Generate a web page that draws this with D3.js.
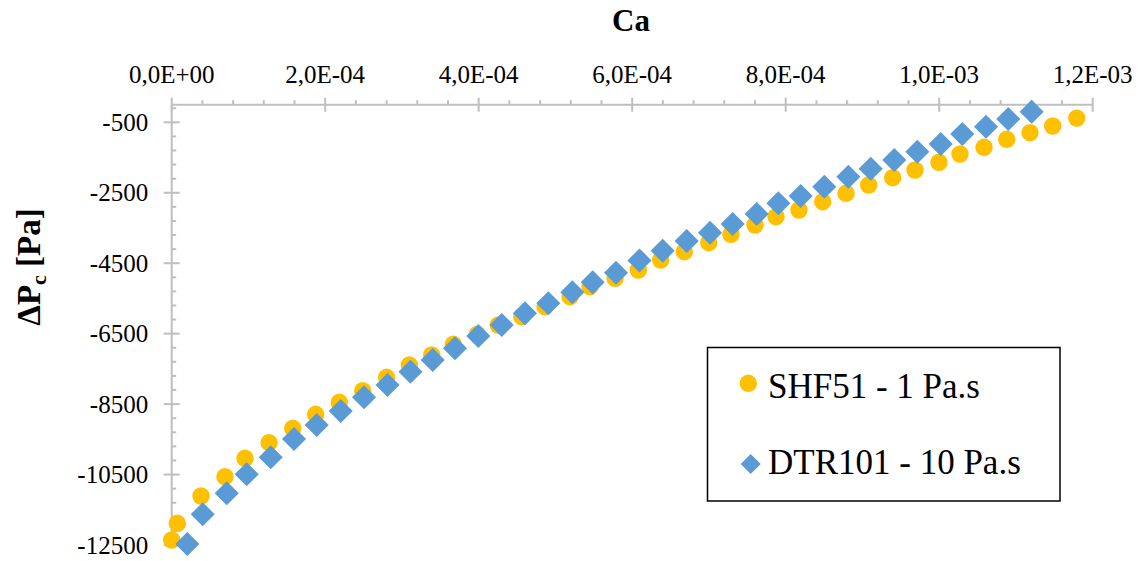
<!DOCTYPE html>
<html>
<head>
<meta charset="utf-8">
<script src="https://cdn.jsdelivr.net/npm/d3@7"></script>
<style>
  svg text, svg tspan { font-family: "Liberation Serif", "Times New Roman", serif !important; }
</style>
</head>
<body style="margin:0;background:#fff">
<svg id="chart" width="1142" height="561" font-family="Liberation Serif"></svg>
<script>
// ---- data ----
const seriesNames = ["SHF51 - 1 Pa.s", "DTR101 - 10 Pa.s"];

const shfCa = [0, 7.3e-6, 3.82e-5, 6.94e-5, 9.55e-5, 1.268e-4, 1.577e-4, 1.876e-4, 2.184e-4, 2.489e-4,
  2.80e-4, 3.096e-4, 3.388e-4, 3.669e-4, 3.982e-4, 4.255e-4, 4.560e-4, 4.864e-4, 5.190e-4, 5.450e-4,
  5.776e-4, 6.080e-4, 6.371e-4, 6.679e-4, 6.997e-4, 7.287e-4, 7.600e-4, 7.874e-4, 8.173e-4, 8.482e-4,
  8.786e-4, 9.081e-4, 9.394e-4, 9.685e-4, 9.997e-4, 1.0271e-3, 1.0584e-3, 1.0880e-3, 1.1183e-3, 1.1479e-3, 1.1792e-3];
const shfDP = [-12358, -11884, -11109, -10561, -10039, -9596, -9187, -8790, -8449, -8120,
  -7739, -7390, -7106, -6802, -6518, -6254, -6019, -5735, -5451, -5167,
  -4929, -4693, -4409, -4173, -3918, -3679, -3415, -3180, -2989, -2754,
  -2515, -2280, -2072, -1854, -1635, -1400, -1209, -982, -795, -605, -380];

const dtrCa = [2.03e-5, 4.04e-5, 7.17e-5, 9.77e-5, 1.290e-4, 1.594e-4, 1.889e-4, 2.202e-4, 2.506e-4, 2.812e-4,
  3.111e-4, 3.401e-4, 3.691e-4, 3.995e-4, 4.300e-4, 4.603e-4, 4.907e-4, 5.220e-4, 5.485e-4, 5.789e-4,
  6.095e-4, 6.397e-4, 6.710e-4, 7.014e-4, 7.309e-4, 7.622e-4, 7.904e-4, 8.195e-4, 8.503e-4, 8.816e-4,
  9.108e-4, 9.415e-4, 9.715e-4, 1.0020e-3, 1.0301e-3, 1.0610e-3, 1.0900e-3, 1.1205e-3];
const dtrDP = [-12472, -11629, -11032, -10493, -10010, -9491, -9093, -8696, -8307, -7958,
  -7580, -7248, -6916, -6567, -6254, -5922, -5638, -5326, -5042, -4770,
  -4423, -4145, -3870, -3634, -3387, -3103, -2799, -2592, -2328, -2044,
  -1820, -1570, -1334, -1116, -832, -625, -406, -199];

const xTicks = [0, 2e-4, 4e-4, 6e-4, 8e-4, 1e-3, 1.2e-3];
const xTickLabels = ["0,0E+00", "2,0E-04", "4,0E-04", "6,0E-04", "8,0E-04", "1,0E-03", "1,2E-03"];
const yTicks = [-12500, -10500, -8500, -6500, -4500, -2500, -500];
const yTickLabels = ["-12500", "-10500", "-8500", "-6500", "-4500", "-2500", "-500"];

const xTitle = "Ca";

// ---- layout ----
const svg = d3.select("#chart");
const x = d3.scaleLinear().domain([0, 1.2e-3]).range([171.7, 1092.7]);
const y = d3.scaleLinear().domain([-12500, 0]).range([545, 104.7]);
const axisColor = "#BFBFBF";

function serif(sel) {
  return sel.attr("font-family", "Liberation Serif").style("font-family", '"Liberation Serif"');
}

// minor ticks
const xMinor = d3.range(0, 30).map(i => i * 4e-5).filter(v => xTicks.every(t => Math.abs(t - v) > 1e-9));
const yMinor = d3.range(0, 32).map(i => -12500 + i * 400).filter(v => v <= 0 && !yTicks.includes(v));

const g = svg.append("g");

// x axis (top, at y = 0)
const xAxisG = g.append("g").attr("transform", `translate(0,${y(0)})`);
xAxisG.append("line").attr("x1", x(0)).attr("x2", x(1.2e-3)).attr("y1", 0).attr("y2", 0)
  .attr("stroke", axisColor).attr("stroke-width", 2);
xAxisG.selectAll("line.major").data(xTicks).join("line").attr("class", "major")
  .attr("x1", d => x(d)).attr("x2", d => x(d)).attr("y1", -7).attr("y2", 7)
  .attr("stroke", axisColor).attr("stroke-width", 2);
xAxisG.selectAll("line.minor").data(xMinor).join("line").attr("class", "minor")
  .attr("x1", d => x(d)).attr("x2", d => x(d)).attr("y1", -4.5).attr("y2", 0)
  .attr("stroke", axisColor).attr("stroke-width", 2);
serif(xAxisG.selectAll("text").data(xTicks).join("text"))
  .attr("x", d => x(d)).attr("y", -21.5).attr("text-anchor", "middle")
  .attr("font-size", 25).attr("fill", "#000")
  .text((d, i) => xTickLabels[i]);

// y axis (at x = 0)
const yAxisG = g.append("g").attr("transform", `translate(${x(0)},0)`);
yAxisG.append("line").attr("x1", 0).attr("x2", 0).attr("y1", y(-12500)).attr("y2", y(0))
  .attr("stroke", axisColor).attr("stroke-width", 2);
yAxisG.selectAll("line.major").data(yTicks).join("line").attr("class", "major")
  .attr("x1", -8).attr("x2", 8).attr("y1", d => y(d)).attr("y2", d => y(d))
  .attr("stroke", axisColor).attr("stroke-width", 2);
yAxisG.selectAll("line.minor").data(yMinor).join("line").attr("class", "minor")
  .attr("x1", 0).attr("x2", 4.5).attr("y1", d => y(d)).attr("y2", d => y(d))
  .attr("stroke", axisColor).attr("stroke-width", 2);
serif(yAxisG.selectAll("text").data(yTicks).join("text"))
  .attr("x", -23.5).attr("y", d => y(d)).attr("dy", "0.34em").attr("text-anchor", "end")
  .attr("font-size", 25).attr("fill", "#000")
  .text((d, i) => yTickLabels[i]);

// titles
serif(svg.append("text")).attr("x", 631).attr("y", 31).attr("text-anchor", "middle")
  .attr("font-size", 31).attr("font-weight", "bold").text(xTitle);

const yt = serif(svg.append("text")).attr("transform", "translate(40,267) rotate(-90)")
  .attr("text-anchor", "middle").attr("font-size", 33).attr("font-weight", "bold");
yt.append("tspan").text("ΔP");
yt.append("tspan").attr("font-size", 22).attr("dy", 6).text("c");
yt.append("tspan").attr("dy", -6).text(" [Pa]");

// series
const yellow = "#FFC000", blue = "#5B9BD5";
const shf = shfCa.map((c, i) => ({ c, p: shfDP[i] }));
const dtr = dtrCa.map((c, i) => ({ c, p: dtrDP[i] }));

g.append("g").selectAll("circle").data(shf).join("circle")
  .attr("cx", d => x(d.c)).attr("cy", d => y(d.p)).attr("r", 8.7).attr("fill", yellow);

const diamond = d3.symbol().type(d3.symbolSquare).size(290);
g.append("g").selectAll("path").data(dtr).join("path")
  .attr("d", diamond)
  .attr("transform", d => `translate(${x(d.c)},${y(d.p)}) rotate(45)`)
  .attr("fill", blue);

// legend
const lg = svg.append("g");
lg.append("rect").attr("x", 707.5).attr("y", 347.5).attr("width", 352.5).attr("height", 153.5)
  .attr("fill", "#fff").attr("stroke", "#000").attr("stroke-width", 1.5);
lg.append("circle").attr("cx", 748.3).attr("cy", 383.3).attr("r", 8.7).attr("fill", yellow);
lg.append("path").attr("d", d3.symbol().type(d3.symbolSquare).size(200))
  .attr("transform", "translate(750.7,464) rotate(45)").attr("fill", blue);
serif(lg.append("text")).attr("x", 768).attr("y", 398.3).attr("font-size", 35).text(seriesNames[0]);
serif(lg.append("text")).attr("x", 768).attr("y", 474).attr("font-size", 35).text(seriesNames[1]);
</script>
</body>
</html>
